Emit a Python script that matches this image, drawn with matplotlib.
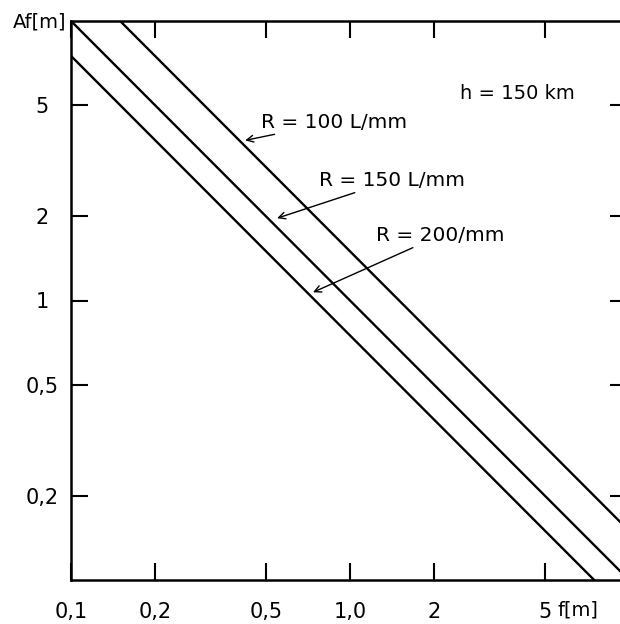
import numpy as np
import matplotlib.pyplot as plt

# focal length f [m] at the two ends of each line
f_ends = [0.1, 10.0]
# ground resolution Af [m] for each film resolution, h = 150 km
A_100 = [15.0, 0.15]
A_150 = [10.0, 0.10]
A_200 = [7.5, 0.075]

x_ticks = [0.1, 0.2, 0.5, 1.0, 2, 5]
x_labels = ['0,1', '0,2', '0,5', '1,0', '2', '5']
y_ticks = [0.2, 0.5, 1, 2, 5]
y_labels = ['0,2', '0,5', '1', '2', '5']

fig = plt.figure(figsize=(6.2, 6.24), dpi=100)
# right spine sits just past the edge of the figure
ax = fig.add_axes([71 / 620, 1 - 580 / 624, 556 / 620, 559 / 624])

for A in (A_100, A_150, A_200):
    ax.plot(f_ends, A, color='black', lw=1.7)

ax.set_xscale('log')
ax.set_yscale('log')
ax.set_xlim(0.1, 0.1 * 10 ** (556 / 279))
ax.set_ylim(0.1, 10)

ax.set_xticks(x_ticks)
ax.set_xticklabels(x_labels)
ax.set_yticks(y_ticks)
ax.set_yticklabels(y_labels, ha='center')
ax.minorticks_off()
ax.tick_params(direction='in', length=12, width=1.5, labelsize=15,
               top=True, right=True)
ax.tick_params(axis='x', pad=16)
ax.tick_params(axis='y', pad=21)
for s in ax.spines.values():
    s.set_linewidth(1.8)

fig.text(40 / 620, 1 - 22 / 624, 'Af[m]', ha='center', va='center', fontsize=14)
fig.text(558 / 620, 1 - 610 / 624, 'f[m]', ha='left', va='center', fontsize=14)
ax.text(2.48, 5.5, 'h = 150 km', ha='left', va='center', fontsize=14)

arrow = dict(arrowstyle='->', color='black', lw=1.0, shrinkA=0, shrinkB=0,
             mutation_scale=12)
ax.annotate('R = 100 L/mm', xy=(0.421, 3.74), xytext=(0.48, 4.35),
            fontsize=14.5, va='center', ha='left', arrowprops=arrow)
ax.annotate('R = 150 L/mm', xy=(0.548, 1.97), xytext=(0.775, 2.69),
            fontsize=14.5, va='center', ha='left', arrowprops=arrow)
ax.annotate('R = 200/mm', xy=(0.737, 1.07), xytext=(1.24, 1.71),
            fontsize=14.5, va='center', ha='left', arrowprops=arrow)

fig.savefig('out.png')
